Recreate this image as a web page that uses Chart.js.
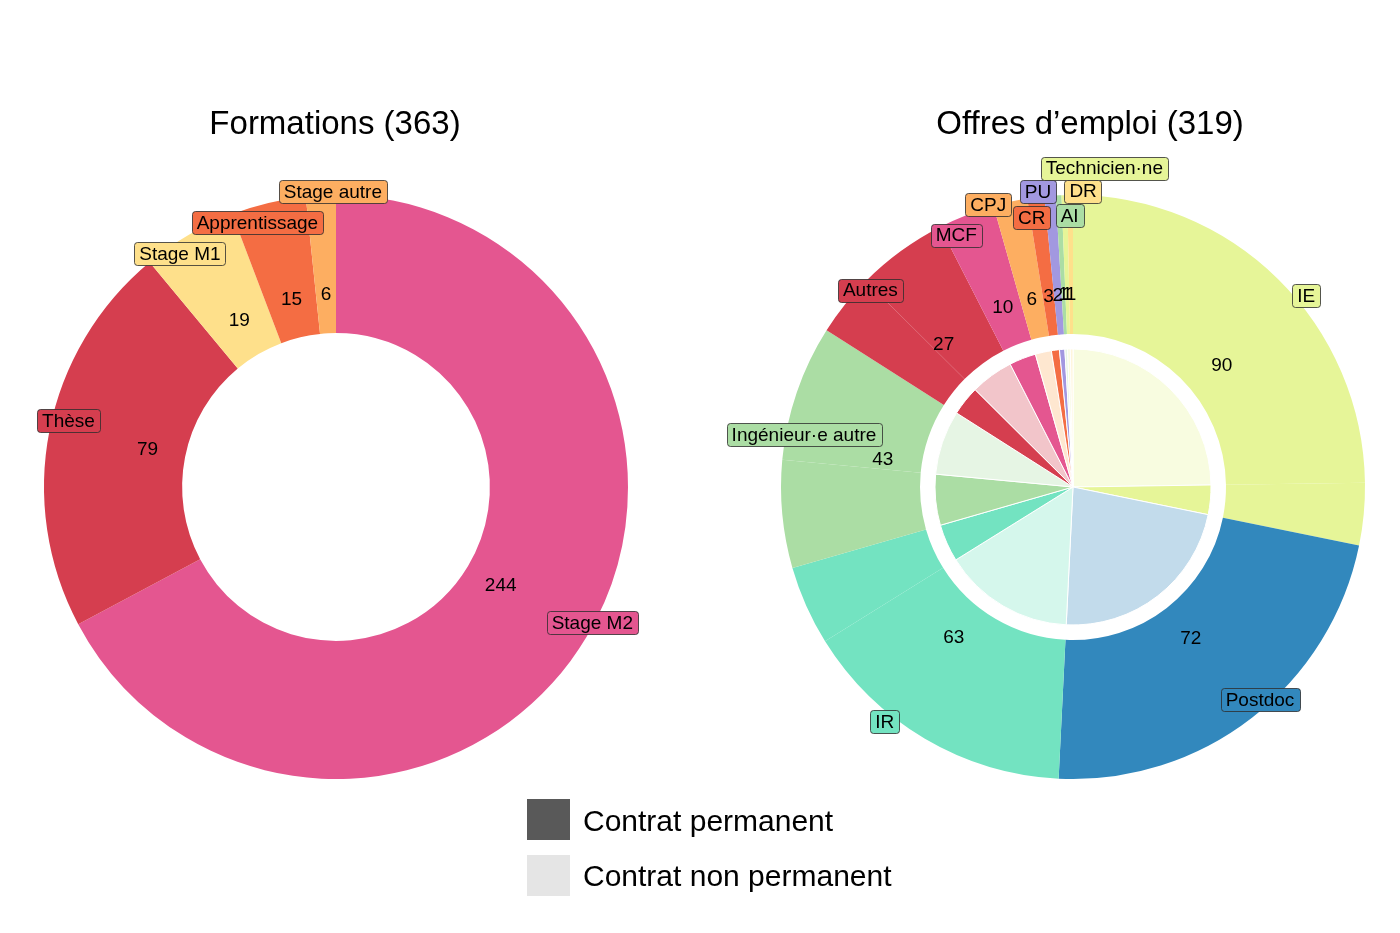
<!DOCTYPE html>
<html>
<head>
<meta charset="utf-8">
<script src="https://cdn.jsdelivr.net/npm/chart.js@4"></script>
<style>
body { margin: 0; background: #fff; font-family: "Liberation Sans", Arial, sans-serif; }
#wrap { position: relative; width: 1400px; height: 933px; }
canvas { position: absolute; top: 0; }
#left { left: 0; }
#right { left: 700px; }
.key { position: absolute; left: 527px; width: 43px; height: 41px; }
.keytxt { position: absolute; left: 583px; font-size: 30px; line-height: 41px; color: #000; white-space: nowrap; }
</style>
</head>
<body>
<div id="wrap">
  <canvas id="left" width="700" height="933"></canvas>
  <canvas id="right" width="700" height="933"></canvas>
  <div class="key" style="top:799px;background:#595959"></div>
  <div class="keytxt" style="top:800px">Contrat permanent</div>
  <div class="key" style="top:855px;background:#e5e5e5"></div>
  <div class="keytxt" style="top:855px">Contrat non permanent</div>
</div>
<script>
// Formations
const formLabels = ['Stage M2', 'Thèse', 'Stage M1', 'Apprentissage', 'Stage autre'];
const formValues = [244, 79, 19, 15, 6];
const formColors = ['#e45690', '#d53e4f', '#fee08b', '#f46d43', '#fdae61'];

// Offres d'emploi, split permanent / non permanent
const offreLabels = ['IE', 'Postdoc', 'IR', 'Ingénieur·e autre', 'Autres', 'MCF', 'CPJ', 'CR', 'PU', 'AI', 'Technicien·ne', 'DR'];
const offrePermanent = [11, 0, 14, 19, 11, 10, 0, 3, 2, 0, 0, 0];
const offreNonPermanent = [79, 72, 49, 24, 16, 0, 6, 0, 0, 1, 1, 1];
const offrePermFirst = [false, false, false, true, true, true, false, true, true, false, false, false];
const offreColors = ['#e6f598', '#3288bd', '#73e3c1', '#abdda4', '#d53e4f', '#e45690', '#fdae61', '#f46d43', '#a298e0', '#abdda4', '#e6f598', '#fee08b'];

// label box nudges (px) from the outer edge of each slice
const formNudge = [[6, -15], [19, -10], [-9, 19], [-11, 20], [12, -4]];
const offreNudge = [[7, -7], [8, -18], [-7, 6], [20, -11], [-6, 19], [-10, 20], [-22, 3], [-4, 20], [-12, -4], [11, 20], [40, -27], [13, -4]];

const FONT = '"Liberation Sans", Arial, sans-serif';

function pale(hex, a) {
    const n = parseInt(hex.slice(1), 16);
    const mix = c => Math.round(255 - (255 - c) * a);
    return 'rgb(' + mix(n >> 16) + ',' + mix((n >> 8) & 255) + ',' + mix(n & 255) + ')';
}

function makeLabels(cfg) {
    return {
        id: 'pieLabels',
        afterDatasetsDraw(chart) {
            const ctx = chart.ctx;
            const arcs = chart.getDatasetMeta(0).data;
            const cx = arcs[0].x, cy = arcs[0].y, R = arcs[0].outerRadius;
            ctx.save();
            ctx.fillStyle = '#000';
            ctx.textAlign = 'center';
            ctx.textBaseline = 'alphabetic';
            ctx.font = '33px ' + FONT;
            ctx.fillText(cfg.title, cfg.titleX, 134);

            ctx.font = '19px ' + FONT;
            ctx.textBaseline = 'middle';
            const mids = cfg.labels.map((lab, i) => {
                const own = arcs.filter((a, j) => cfg.group[j] === i);
                const a0 = Math.min(...own.map(a => a.startAngle));
                const a1 = Math.max(...own.map(a => a.endAngle));
                return (a0 + a1) / 2;
            });
            mids.forEach((mid, i) => {
                const rv = R * 0.658;
                ctx.fillStyle = '#000';
                ctx.fillText(String(cfg.values[i]), cx + rv * Math.cos(mid), cy + rv * Math.sin(mid));
            });
            mids.forEach((mid, i) => {
                const lab = cfg.labels[i];
                const bx = cx + R * Math.cos(mid) + cfg.nudge[i][0];
                const by = cy + R * Math.sin(mid) + cfg.nudge[i][1];
                const w = ctx.measureText(lab).width + 10, h = 23;
                ctx.beginPath();
                ctx.roundRect(Math.round(bx - w / 2) + 0.5, Math.round(by - h / 2) + 0.5, Math.round(w), h, 3);
                ctx.fillStyle = cfg.colors[i];
                ctx.fill();
                ctx.strokeStyle = 'rgba(45,45,45,0.8)';
                ctx.lineWidth = 1;
                ctx.stroke();
                ctx.fillStyle = '#000';
                ctx.fillText(lab, bx, by + 1);
            });
            ctx.restore();
        }
    };
}

const baseOptions = {
    responsive: false,
    animation: false,
    events: [],
    plugins: { legend: { display: false }, tooltip: { enabled: false } }
};

// left: formations
new Chart(document.getElementById('left'), {
    type: 'doughnut',
    data: {
        labels: formLabels,
        datasets: [{
            data: formValues,
            backgroundColor: formColors,
            borderWidth: 0,
            hoverBorderWidth: 0,
            hoverOffset: 0
        }]
    },
    options: Object.assign({}, baseOptions, {
        cutout: '52.7%',
        layout: { padding: { left: 44, right: 72, top: 195, bottom: 154 } }
    }),
    plugins: [makeLabels({
        title: 'Formations (363)', titleX: 335,
        labels: formLabels, values: formValues, colors: formColors,
        group: formValues.map((v, i) => i), nudge: formNudge
    })]
});

// right: offres d'emploi
const sliceValues = [], sliceCat = [], sliceOuter = [], sliceInner = [];
offreLabels.forEach((lab, i) => {
    const parts = [[offreNonPermanent[i], false], [offrePermanent[i], true]];
    if (offrePermFirst[i]) parts.reverse();
    parts.forEach(([v, perm]) => {
        if (!v) return;
        sliceValues.push(v);
        sliceCat.push(i);
        sliceOuter.push(offreColors[i]);
        sliceInner.push(perm ? offreColors[i] : pale(offreColors[i], 0.3));
    });
});
const offreTotals = offreLabels.map((l, i) => offrePermanent[i] + offreNonPermanent[i]);

new Chart(document.getElementById('right'), {
    type: 'doughnut',
    data: {
        labels: sliceCat.map(i => offreLabels[i]),
        datasets: [{
            data: sliceValues,
            backgroundColor: sliceOuter,
            borderWidth: 0, hoverBorderWidth: 0, hoverOffset: 0,
            weight: 139
        }, {
            data: sliceValues,
            backgroundColor: 'rgba(0,0,0,0)',
            borderWidth: 0, hoverBorderWidth: 0, hoverOffset: 0,
            weight: 15
        }, {
            data: sliceValues,
            backgroundColor: sliceInner,
            borderColor: '#fff',
            borderWidth: 1, hoverBorderWidth: 1, hoverOffset: 0,
            weight: 138
        }]
    },
    options: Object.assign({}, baseOptions, {
        cutout: 0,
        layout: { padding: { left: 81, right: 35, top: 195, bottom: 154 } }
    }),
    plugins: [makeLabels({
        title: 'Offres d’emploi (319)', titleX: 390,
        labels: offreLabels, values: offreTotals, colors: offreColors,
        group: sliceCat, nudge: offreNudge
    })]
});
</script>
</body>
</html>
